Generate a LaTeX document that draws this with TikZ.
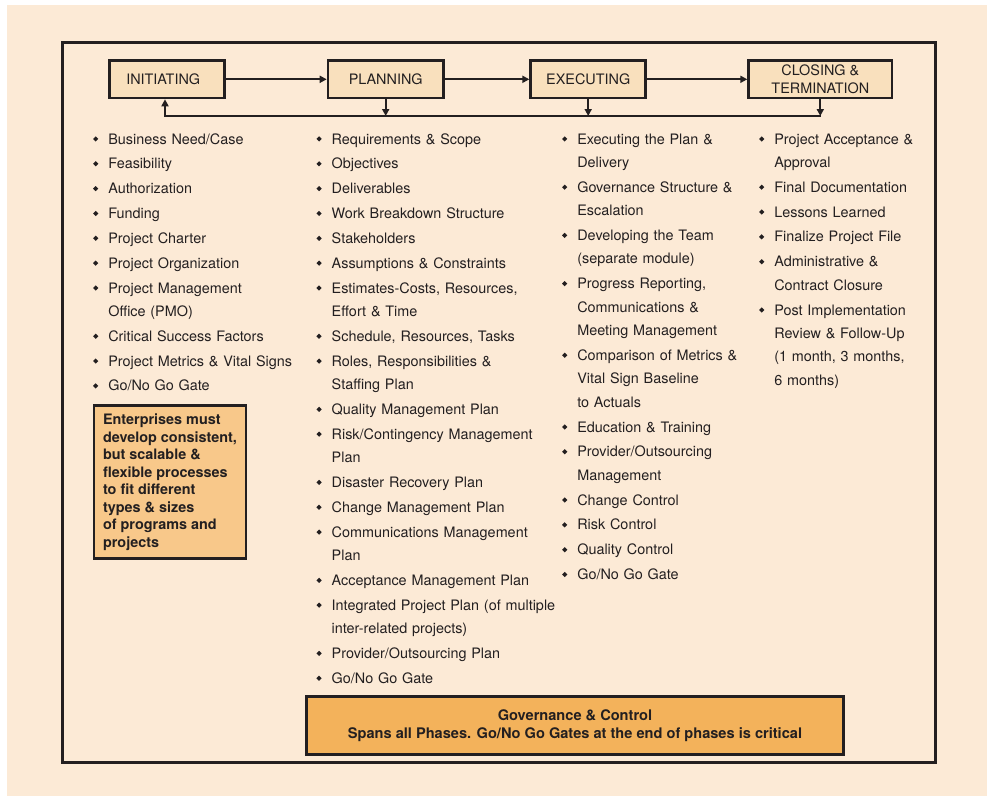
\documentclass[tikz,border=0pt]{standalone}
\usepackage{graphicx}
\usepackage{fontspec}
\setmainfont{TeX Gyre Heros}
\usetikzlibrary{arrows.meta}

\definecolor{paper}{HTML}{FCEAD6}
\definecolor{ink}{HTML}{231F20}
\definecolor{phasefill}{HTML}{F9E0BD}
\definecolor{notefill}{HTML}{F8C88A}
\definecolor{govfill}{HTML}{F3B25B}

% small diamond bullet hung to the left of each list entry
\newcommand\itembullet{\llap{\raisebox{2.45pt}{\rotatebox{45}{\rule{3.7pt}{3.7pt}}}\hspace{10pt}}}
\newcommand\listentry[4]{\node[entry] (#1) at (#2,#3) {\itembullet#4};}

\tikzset{
  phase/.style={draw=ink, line width=2.7pt, fill=phasefill, inner sep=0pt,
    outer sep=1.35pt, minimum height=37.3pt, text=ink, align=center,
    font=\fontsize{14.4}{17.6}\selectfont},
  flow/.style={draw=ink, line width=2pt, -{Triangle[length=7pt,width=7pt]}},
  bus/.style={draw=ink, line width=2pt, line cap=rect},
  entry/.style={anchor=base west, inner sep=0pt, outer sep=0pt, text width=240pt,
    align=left, text=ink, font=\fontsize{14.4}{23.4}\selectfont},
  callout/.style={draw=ink, line width=2.7pt, inner sep=0pt, text=ink}
}

\begin{document}
\begin{tikzpicture}[x=1pt, y=-1pt]
  \useasboundingbox (0,0) rectangle (987,796);
  \fill[white] (0,0) rectangle (987,796);
  \fill[paper] (7,5) rectangle (987,796);

  % outer frame
  \draw[ink, line width=3pt] (62.2,42.2) rectangle (935,762);

  % phases
  \node[phase, minimum width=115pt]   (init)  at (167.2,79.3) {INITIATING\hspace*{8pt}};
  \node[phase, minimum width=115.3pt] (plan)  at (385.7,79.3) {PLANNING};
  \node[phase, minimum width=115pt]   (exec)  at (588.2,79.3) {EXECUTING};
  \node[phase, minimum width=143.3pt] (close) at (820.3,79.3) {CLOSING \&\\TERMINATION};

  \draw[flow] (init) -- (plan);
  \draw[flow] (plan) -- (exec);
  \draw[flow] (exec) -- (close);

  % feedback bus back to initiating
  \coordinate (busL) at (165,116);
  \coordinate (busR) at (close.south |- busL);
  \draw[bus, {Triangle[length=7pt,width=7pt]}-] (busL |- init.south) -- (busL) -- (busR);
  \draw[flow] (plan.south) -- (plan.south |- busL);
  \draw[flow] (exec.south) -- (exec.south |- busL);
  \draw[flow] (close.south) -- (busR);

  % initiating
  \listentry{c1a}{108.3}{144}{Business Need/Case}
  \listentry{c1b}{108.3}{168.84}{Feasibility}
  \listentry{c1c}{108.3}{193.68}{Authorization}
  \listentry{c1d}{108.3}{218.52}{Funding}
  \listentry{c1e}{108.3}{243.36}{Project Charter}
  \listentry{c1f}{108.3}{268.20}{Project Organization}
  \listentry{c1g}{108.3}{293.04}{Project Management\\Office (PMO)}
  \listentry{c1h}{108.3}{341.28}{Critical Success Factors}
  \listentry{c1i}{108.3}{366.12}{Project Metrics \& Vital Signs}
  \listentry{c1j}{108.3}{390.96}{Go/No Go Gate}

  % planning
  \listentry{c2a}{331.7}{144}{Requirements \& Scope}
  \listentry{c2b}{331.7}{168.84}{Objectives}
  \listentry{c2c}{331.7}{193.68}{Deliverables}
  \listentry{c2d}{331.7}{218.52}{Work Breakdown Structure}
  \listentry{c2e}{331.7}{243.36}{Stakeholders}
  \listentry{c2f}{331.7}{268.20}{Assumptions \& Constraints}
  \listentry{c2g}{331.7}{293.04}{Estimates-Costs, Resources,\\Effort \& Time}
  \listentry{c2h}{331.7}{341.28}{Schedule, Resources, Tasks}
  \listentry{c2i}{331.7}{366.12}{Roles, Responsibilities \&\\Staffing Plan}
  \listentry{c2j}{331.7}{414.36}{Quality Management Plan}
  \listentry{c2k}{331.7}{439.20}{Risk/Contingency Management\\Plan}
  \listentry{c2l}{331.7}{487.44}{Disaster Recovery Plan}
  \listentry{c2m}{331.7}{512.28}{Change Management Plan}
  \listentry{c2n}{331.7}{537.12}{Communications Management\\Plan}
  \listentry{c2o}{331.7}{585.36}{Acceptance Management Plan}
  \listentry{c2p}{331.7}{610.20}{Integrated Project Plan (of multiple\\inter-related projects)}
  \listentry{c2q}{331.7}{658.44}{Provider/Outsourcing Plan}
  \listentry{c2r}{331.7}{683.28}{Go/No Go Gate}

  % executing
  \listentry{c3a}{577.3}{144}{Executing the Plan \&\\Delivery}
  \listentry{c3b}{577.3}{192.24}{Governance Structure \&\\Escalation}
  \listentry{c3c}{577.3}{240.48}{Developing the Team\\(separate module)}
  \listentry{c3d}{577.3}{288.72}{Progress Reporting,\\Communications \&\\Meeting Management}
  \listentry{c3e}{577.3}{360.36}{Comparison of Metrics \&\\Vital Sign Baseline\\to Actuals}
  \listentry{c3f}{577.3}{432.0}{Education \& Training}
  \listentry{c3g}{577.3}{456.84}{Provider/Outsourcing\\Management}
  \listentry{c3h}{577.3}{505.08}{Change Control}
  \listentry{c3i}{577.3}{529.92}{Risk Control}
  \listentry{c3j}{577.3}{554.76}{Quality Control}
  \listentry{c3k}{577.3}{579.6}{Go/No Go Gate}

  % closing & termination
  \listentry{c4a}{774.3}{144}{Project Acceptance \&\\Approval}
  \listentry{c4b}{774.3}{192.24}{Final Documentation}
  \listentry{c4c}{774.3}{217.08}{Lessons Learned}
  \listentry{c4d}{774.3}{241.92}{Finalize Project File}
  \listentry{c4e}{774.3}{266.76}{Administrative \&\\Contract Closure}
  \listentry{c4f}{774.3}{315}{Post Implementation\\Review \& Follow-Up\\(1 month, 3 months,\\6 months)}

  % call-out boxes
  \node[callout, fill=notefill, minimum width=152pt, minimum height=153pt, align=left,
        font=\fontsize{14.4}{17.5}\selectfont\bfseries] (note) at (170,482.2)
    {Enterprises must\\develop consistent,\\but scalable \&\\flexible processes\\to fit different\\types \& sizes\\of programs and\\projects};
  \node[callout, fill=govfill, minimum width=537pt, minimum height=58.5pt, align=center,
        font=\fontsize{14.6}{17.6}\selectfont\bfseries] (gov) at (575,725.45)
    {Governance \& Control\\Spans all Phases. Go/No Go Gates at the end of phases is critical};
\end{tikzpicture}
\end{document}
